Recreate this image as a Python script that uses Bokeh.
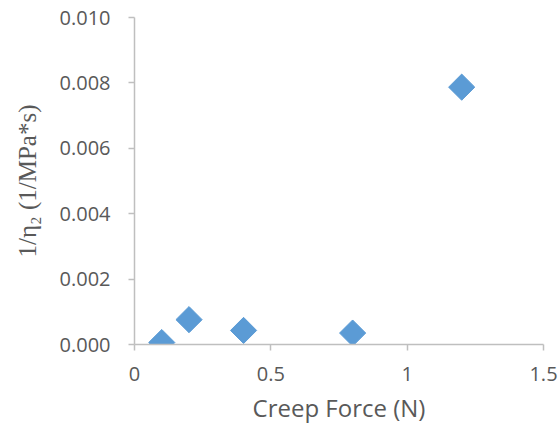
import math

from bokeh.plotting import figure
from bokeh.models import Range1d, FixedTicker, NumeralTickFormatter, ColumnDataSource
from bokeh.embed import file_html
from bokeh.resources import INLINE

# Creep force (N) and the inverse viscosity 1/eta2 (1/MPa*s)
creep_force = [0.1, 0.2, 0.4, 0.8, 1.2]
inv_eta2 = [0.00006, 0.00076, 0.00043, 0.00035, 0.00787]

x_ticks = [0, 0.5, 1, 1.5]
x_tick_labels = ["0", "0.5", "1", "1.5"]
y_ticks = [0.000, 0.002, 0.004, 0.006, 0.008, 0.010]

GREY_TEXT = "#595959"
AXIS_GREY = "#bfbfbf"
MARKER_BLUE = "#5b9bd5"

p = figure(
    width=560, height=426,
    x_range=Range1d(0, 1.5), y_range=Range1d(0, 0.010),
    output_backend="svg", toolbar_location=None,
    min_border_left=134, min_border_right=17,
    min_border_top=17, min_border_bottom=82,
)
p.outline_line_color = None
p.xgrid.visible = False
p.ygrid.visible = False
p.background_fill_color = "white"
p.border_fill_color = "white"

src = ColumnDataSource(dict(x=creep_force, y=inv_eta2))
p.scatter("x", "y", source=src, marker="square", angle=math.pi / 4,
          size=18.5, fill_color=MARKER_BLUE, line_color=MARKER_BLUE)

# x axis
p.xaxis.ticker = FixedTicker(ticks=x_ticks)
p.xaxis.major_label_overrides = {t: s for t, s in zip(x_ticks, x_tick_labels)}
p.xaxis.axis_label = "Creep Force (N)"

# y axis
p.yaxis.ticker = FixedTicker(ticks=y_ticks)
p.yaxis.formatter = NumeralTickFormatter(format="0.000")
p.yaxis.axis_label = "1/η₂ (1/MPa*s)"

for ax in (p.xaxis[0], p.yaxis[0]):
    ax.axis_line_color = AXIS_GREY
    ax.axis_line_width = 1.5
    ax.major_tick_line_color = AXIS_GREY
    ax.major_tick_line_width = 1.5
    ax.major_tick_in = 0
    ax.major_tick_out = 6
    ax.minor_tick_line_color = None
    ax.major_label_text_color = GREY_TEXT
    ax.major_label_text_font = "Open Sans"
    ax.major_label_text_font_size = "20px"
    ax.axis_label_text_color = GREY_TEXT
    ax.axis_label_text_font_style = "normal"

p.xaxis.major_label_standoff = 16
p.xaxis.axis_label_text_font = "Open Sans"
p.xaxis.axis_label_text_font_size = "24px"
p.xaxis.axis_label_standoff = 7

p.yaxis.major_label_standoff = 18
p.yaxis.axis_label_text_font = "Liberation Serif"
p.yaxis.axis_label_text_font_size = "25px"
p.yaxis.axis_label_standoff = 16

open("out.html", "w").write(file_html(p, INLINE))
